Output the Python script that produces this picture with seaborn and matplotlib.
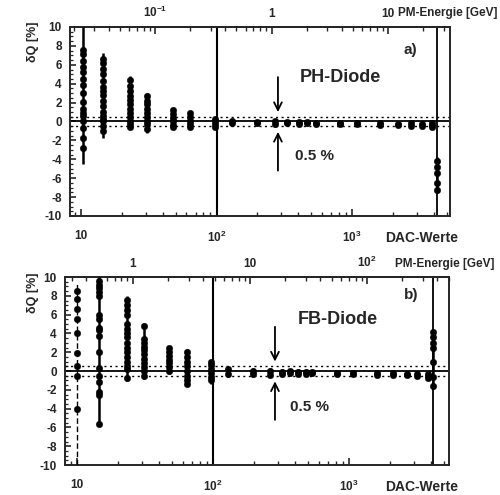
import numpy as np
import pandas as pd
import matplotlib
matplotlib.use("Agg")
import matplotlib.pyplot as plt
from matplotlib.ticker import FixedLocator, LogLocator, MultipleLocator, NullFormatter
import seaborn as sns

# ---------------- data ----------------
# PH-Diode: DAC positions, vertical extent of each point cluster, individual points
dac_a = [10.3, 14.5, 23, 30.7, 47.7, 63.7, 97.5, 130, 199, 270, 331, 406, 466,
         542, 815, 1088, 1610, 2185, 2724, 3285, 3893, 4240]
lo_a = [-4.5, -1.7, -0.8, -1.2, -0.8, -0.7, -0.8, -0.5, -0.5, -0.6, -0.5, -0.5, -0.5,
        -0.5, -0.5, -0.5, -0.6, -0.6, -0.7, -0.7, -0.8, -7.6]
hi_a = [10.0, 7.2, 4.8, 3.0, 1.4, 1.1, 0.4, 0.3, 0.2, 0.3, 0.2, 0.2, 0.2,
        0.1, 0.1, 0.1, 0.0, 0.0, 0.0, -0.1, -0.1, -3.8]
pts_a = [
    [7.6, 7.1, 6.4, 5.8, 5.2, 4.5, 3.9, 3.0, 2.1, 1.3, 0.9, 0.6, 0.05, -0.7, -1.7, -2.8],
    [6.6, 6.2, 5.6, 5.0, 4.3, 3.7, 3.2, 2.8, 2.2, 1.6, 1.0, 0.6, 0.3, 0.0, -0.5, -1.0],
    [4.4, 3.8, 3.2, 2.7, 2.3, 1.8, 1.3, 0.9, 0.5, 0.1, -0.3, -0.6],
    [2.7, 2.2, 1.8, 1.3, 0.9, 0.5, 0.1, -0.3, -0.8],
    [1.2, 0.8, 0.4, 0.0, -0.4, -0.6],
    [0.9, 0.5, 0.1, -0.3, -0.6],
    [0.3, 0.0, -0.3, -0.6],
    [0.1, -0.2],
    [-0.1, -0.2],
    [0.0, -0.3],
    [-0.1, -0.2],
    [-0.1, -0.3],
    [-0.1, -0.2],
    [-0.2, -0.3],
    [-0.2, -0.3],
    [-0.2, -0.3],
    [-0.2, -0.4],
    [-0.3, -0.4],
    [-0.2, -0.5],
    [-0.3, -0.5],
    [-0.2, -0.4, -0.6],
    [-4.2, -4.8, -5.5, -6.5, -7.2],
]

# FB-Diode
dac_b = [10.0, 14.5, 23.3, 31, 47.5, 64.4, 96.5, 129, 197, 262, 322, 368, 421, 483,
         535, 817, 1070, 1606, 2107, 2670, 3162, 3811, 4150]
lo_b = [-10.0, -5.8, -1.1, -0.9, -0.3, -1.6, -1.4, -0.6, -0.6, -0.6, -0.5, -0.5, -0.5,
        -0.5, -0.5, -0.5, -0.5, -0.6, -0.6, -0.6, -0.7, -0.8, -1.9]
hi_b = [9.5, 10.0, 8.0, 5.1, 2.7, 2.3, 1.2, 0.4, 0.3, 0.3, 0.2, 0.2, 0.2, 0.2,
        0.2, 0.1, 0.1, 0.1, 0.0, 0.0, 0.0, -0.1, 4.3]
pts_b = [
    [8.5, 7.7, 6.6, 5.5, 4.0, 1.9, 0.5, -0.5, -4.0],
    [9.6, 9.2, 8.8, 8.4, 8.0, 6.0, 5.5, 4.6, 4.4, 3.7, 2.0, 0.3, -0.5, -1.2, -2.2, -2.6, -5.6],
    [7.6, 7.0, 6.5, 6.0, 5.0, 4.5, 4.0, 3.6, 3.0, 2.4, 2.0, 1.5, 1.0, 0.5, 0.2, -0.7],
    [4.8, 3.4, 3.0, 2.6, 2.2, 1.8, 1.3, 0.8, 0.4, 0.0, -0.5],
    [2.4, 2.0, 1.6, 1.2, 0.8, 0.4, 0.0],
    [2.0, 1.5, 1.0, 0.5, 0.0, -0.5, -1.0, -1.4],
    [1.0, 0.6, 0.2, -0.2, -0.6, -1.0],
    [0.2, -0.3],
    [0.0, -0.3],
    [0.0, -0.4],
    [-0.1, -0.3],
    [0.0, -0.2],
    [-0.1, -0.3],
    [-0.1, -0.3],
    [-0.1, -0.2],
    [-0.2, -0.3],
    [-0.2, -0.3],
    [-0.2, -0.4],
    [-0.2, -0.4],
    [-0.3, -0.4],
    [-0.3, -0.5],
    [-0.3, -0.5, -0.7],
    [4.1, 3.6, 3.0, 2.5, 1.0, -0.6, -1.6],
]

y_ticks = [-10, -8, -6, -4, -2, 0, 2, 4, 6, 8, 10]
dac_ticks = [10, 100, 1000]
dac_labels = ["10", r"$10^{2}$", r"$10^{3}$"]
e_ticks_a = [0.1, 1, 10]
e_labels_a = [r"$10^{-1}$", "1", "10"]
e_ticks_b = [1, 10, 100]
e_labels_b = ["1", "10", r"$10^{2}$"]

band = 0.5          # dotted band half-width in %
switch_dac = 100    # range switch marker

# ---------------- style ----------------
sns.set_style("ticks")
plt.rcParams["font.family"] = ["Liberation Sans", "DejaVu Sans"]
plt.rcParams["font.weight"] = "bold"
plt.rcParams["mathtext.fontset"] = "custom"
plt.rcParams["mathtext.rm"] = "Liberation Sans:bold"
plt.rcParams["mathtext.it"] = "Liberation Sans:bold"
plt.rcParams["mathtext.bf"] = "Liberation Sans:bold"

W, H = 500, 495
fig = plt.figure(figsize=(W / 100, H / 100), dpi=100)


def frac(px, py):
    return px / W, 1 - py / H


def panel(rect, dac, lo, hi, pts, xlim, end_dac, e_fwd, e_inv, e_ticks, e_labels,
          arrow_dac, dashed_first):
    ax = fig.add_axes(rect)
    ax.set_xscale("log")
    ax.set_xlim(*xlim)
    ax.set_ylim(-10, 10)

    rows = [(d, y) for d, ys in zip(dac, pts) for y in ys]
    df = pd.DataFrame(rows, columns=["dac", "dq"])

    for i, (d, l, h) in enumerate(zip(dac, lo, hi)):
        first = dashed_first and i == 0
        ax.vlines(d, l, h, color="black", lw=1.0 if first else 1.8,
                  linestyles=(0, (4, 2)) if first else "-", zorder=3)
    sns.scatterplot(data=df, x="dac", y="dq", ax=ax, color="black", s=22,
                    marker="o", edgecolor="black", linewidth=0.3, legend=False, zorder=4)

    ax.axhline(0, color="black", lw=1.3, zorder=2)
    ax.axhline(band, color="black", lw=1.0, ls=(0, (1.5, 2.5)), zorder=2)
    ax.axhline(-band, color="black", lw=1.0, ls=(0, (1.5, 2.5)), zorder=2)
    ax.axvline(switch_dac, color="black", lw=1.5, zorder=2)
    ax.axvline(end_dac, color="black", lw=1.3, zorder=2)

    ax.set_xlabel("")
    ax.set_ylabel("")
    ax.xaxis.set_major_locator(FixedLocator(dac_ticks))
    ax.set_xticklabels(dac_labels)
    ax.xaxis.set_minor_locator(LogLocator(base=10, subs=np.arange(2, 10)))
    ax.xaxis.set_minor_formatter(NullFormatter())
    ax.set_yticks(y_ticks)
    ax.set_yticklabels([str(v) for v in y_ticks])
    ax.yaxis.set_minor_locator(MultipleLocator(0.5))
    ax.tick_params(axis="x", which="major", direction="in", length=5, width=1.2,
                   labelsize=8.5, pad=10, top=False)
    ax.tick_params(axis="x", which="minor", direction="in", length=3, width=1.0, top=False)
    ax.tick_params(axis="y", which="major", direction="in", length=4, width=1.2,
                   labelsize=8.5, pad=6, right=False)
    ax.tick_params(axis="y", which="minor", direction="in", length=2.5, width=0.9, right=False)
    for s in ax.spines.values():
        s.set_linewidth(1.4)
        s.set_visible(True)

    sec = ax.secondary_xaxis("top", functions=(e_fwd, e_inv))
    sec.xaxis.set_major_locator(FixedLocator(e_ticks))
    sec.set_xticklabels(e_labels)
    sec.xaxis.set_minor_locator(LogLocator(base=10, subs=np.arange(2, 10)))
    sec.xaxis.set_minor_formatter(NullFormatter())
    sec.tick_params(which="major", direction="in", length=5, width=1.2, labelsize=8.5, pad=5)
    sec.tick_params(which="minor", direction="in", length=3, width=1.0)
    sec.spines["top"].set_linewidth(1.4)

    ax.annotate("", xy=(arrow_dac, 1.0), xytext=(arrow_dac, 4.7),
                arrowprops=dict(arrowstyle="->", lw=1.3, color="black",
                                mutation_scale=14, shrinkA=0, shrinkB=0))
    ax.annotate("", xy=(arrow_dac, -1.1), xytext=(arrow_dac, -5.2),
                arrowprops=dict(arrowstyle="->", lw=1.3, color="black",
                                mutation_scale=14, shrinkA=0, shrinkB=0))
    return ax


p_exp = 1.163


def fwd_a(d):
    d = np.asarray(d, dtype=float)
    return 10 ** (-1 + p_exp * (np.log10(np.clip(d, 1e-9, None)) - 1.546))


def inv_a(e):
    e = np.asarray(e, dtype=float)
    return 10 ** (1.546 + (np.log10(np.clip(e, 1e-12, None)) + 1) / p_exp)


def fwd_b(d):
    d = np.asarray(d, dtype=float)
    return 10 ** (p_exp * (np.log10(np.clip(d, 1e-9, None)) - 1.412))


def inv_b(e):
    e = np.asarray(e, dtype=float)
    return 10 ** (1.412 + np.log10(np.clip(e, 1e-12, None)) / p_exp)


ax_a = panel([70 / W, 1 - 216 / H, 380 / W, 189 / H], dac_a, lo_a, hi_a, pts_a,
             (8.3, 5280), 4240, fwd_a, inv_a, e_ticks_a, e_labels_a, 284, False)
ax_b = panel([65 / W, 1 - 465 / H, 384 / W, 188 / H], dac_b, lo_b, hi_b, pts_b,
             (8.2, 5430), 4150, fwd_b, inv_b, e_ticks_b, e_labels_b, 286, True)


# free text
def ftext(px, py, s, size, **kw):
    x, y = frac(px, py)
    fig.text(x, y, s, fontsize=size, fontweight="bold", **kw)


ftext(300, 77, "PH-Diode", 13, va="center", ha="left")
ftext(404, 50, "a)", 11, va="center", ha="left")
ftext(295, 156, "0.5 %", 11, va="center", ha="left")
ftext(298, 320, "FB-Diode", 13, va="center", ha="left")
ftext(404, 295, "b)", 11, va="center", ha="left")
ftext(290, 407, "0.5 %", 11, va="center", ha="left")

ftext(385, 238, "DAC-Werte", 10, va="center", ha="left")
ftext(385, 487, "DAC-Werte", 10, va="center", ha="left")
ftext(398, 13, "PM-Energie [GeV]", 8.5, va="center", ha="left")
ftext(395, 264, "PM-Energie [GeV]", 8.5, va="center", ha="left")

ftext(33, 42, "δQ [%]", 9, va="center", ha="center", rotation=90)
ftext(33, 293, "δQ [%]", 9, va="center", ha="center", rotation=90)

fig.savefig("out.png", dpi=100, facecolor="white")
